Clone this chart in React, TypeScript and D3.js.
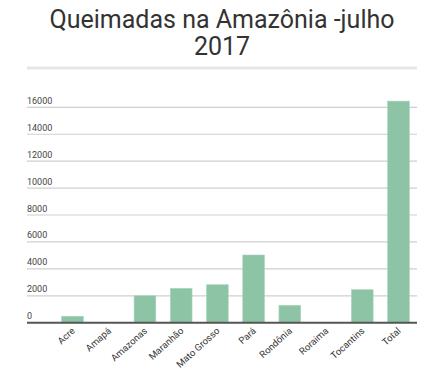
import React from 'react';
import * as d3 from 'd3';

// estados e focos de queimada (julho 2017)
const states = ['Acre', 'Amapá', 'Amazonas', 'Maranhão', 'Mato Grosso', 'Pará', 'Rondônia', 'Roraima', 'Tocantins', 'Total'];
const fires = [480, 0, 2000, 2550, 2820, 5030, 1290, 0, 2450, 16460];
const yTicks = [0, 2000, 4000, 6000, 8000, 10000, 12000, 14000, 16000];

export default function App() {
  const width = 426, height = 370;
  const left = 27, right = 417;
  const top = 107.3, bottom = 322.7;

  const x = d3.scaleBand<string>()
    .domain(states)
    .range([54.4, 416.6])
    .paddingInner(0.4)
    .paddingOuter(0.2);

  const y = d3.scaleLinear()
    .domain([0, 16000])
    .range([bottom, top]);

  const font = 'Roboto, "Noto Sans", sans-serif';

  return (
    <svg width={width} height={height} style={{ position: 'absolute', left: 0, top: 0 }} fontFamily={font}>
      <rect width={width} height={height} fill="#fff" />
      <text x={222} y={28} textAnchor="middle" fontSize={25} fill="#333">Queimadas na Amazônia -julho</text>
      <text x={222} y={55} textAnchor="middle" fontSize={25} fill="#333">2017</text>
      <line x1={left} x2={right} y1={68} y2={68} stroke="#e6e6e6" strokeWidth={3} />

      {yTicks.map(t => (
        <g key={t}>
          {t > 0 && <line x1={left} x2={right} y1={y(t)} y2={y(t)} stroke="#cfcfcf" strokeWidth={1.2} />}
          <text x={left} y={y(t) - 3.5} fontSize={9} fill="#444">{t}</text>
        </g>
      ))}

      {states.map((s, i) => (
        <rect key={s} x={x(s)} y={y(fires[i])} width={x.bandwidth()} height={bottom - y(fires[i])}
          fill="#8dc4a5" stroke="#a9d6bc" strokeWidth={0.6} />
      ))}

      <line x1={left} x2={right} y1={bottom} y2={bottom} stroke="#555" strokeWidth={2} />

      {states.map(s => {
        const cx = (x(s) as number) + x.bandwidth() / 2 + 3;
        return (
          <text key={s} transform={`translate(${cx},${bottom + 9}) rotate(-42)`} textAnchor="end"
            fontSize={9.5} fill="#333">{s}</text>
        );
      })}
    </svg>
  );
}
